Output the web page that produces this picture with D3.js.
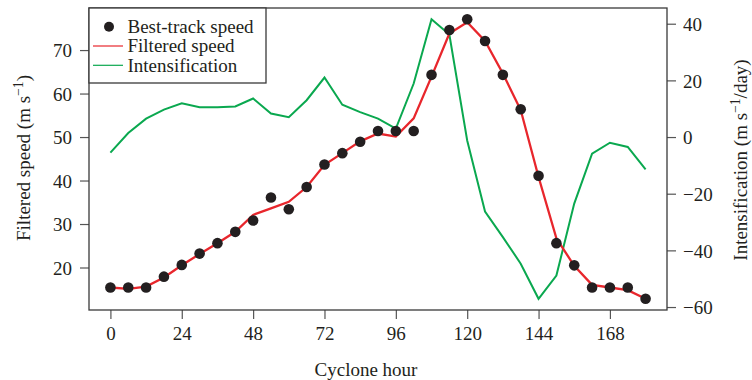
<!DOCTYPE html>
<html>
<head>
<meta charset="utf-8">
<script src="https://cdn.jsdelivr.net/npm/d3@7"></script>
<style>
  body { margin: 0; background: #fff; }
  svg text { font-family: "Liberation Serif", "DejaVu Serif", serif; fill: #231f20; }
</style>
</head>
<body>
<div id="chart"></div>
<script>
// cyclone hours, every 6 h
const hours = d3.range(0, 181, 6);
// best-track speed (m/s)
const bestTrack = [15.4, 15.4, 15.4, 17.9, 20.6, 23.2, 25.6, 28.2, 30.8, 36.1, 33.4, 38.5, 43.7, 46.3, 48.9, 51.4,
                   51.4, 51.4, 64.3, 74.6, 77.1, 72.1, 64.3, 56.4, 41.1, 25.6, 20.5, 15.4, 15.4, 15.4, 12.8];
// filtered speed (m/s)
const filtered = [15.4, 15.1, 15.6, 17.7, 20.5, 23.1, 25.6, 28.2, 32.1, 33.6, 35.1, 38.5, 43.6, 46.3, 49.0, 50.8,
                  50.1, 54.3, 63.9, 73.8, 76.4, 72.1, 64.6, 56.2, 40.8, 26.7, 20.4, 16.0, 15.4, 14.8, 12.8];
// intensification (m/s per day)
const intens = [-5.5, 1.4, 6.5, 9.7, 11.9, 10.5, 10.5, 10.8, 13.6, 8.3, 7.0, 13.0, 21.0, 11.4, 8.8, 6.5,
                3.0, 18.9, 41.6, 36.2, -1.2, -26.3, -35.3, -44.7, -57.1, -48.9, -23.5, -5.9, -2.0, -3.5, -11.4];

const xTicks = [0, 24, 48, 72, 96, 120, 144, 168];
const yTicks = [20, 30, 40, 50, 60, 70];
const y2Ticks = [-60, -40, -20, 0, 20, 40];

const W = 752, H = 380;
const box = {left: 89, right: 667, top: 8, bottom: 310};
const red = "#e8262c", green = "#0aa84f", ink = "#231f20";

// R-style 4% padding
function pad(ext) { const d = (ext[1] - ext[0]) * 0.04; return [ext[0] - d, ext[1] + d]; }

const x = d3.scaleLinear().domain(pad(d3.extent(hours))).range([box.left, box.right]);
const y = d3.scaleLinear().domain(pad(d3.extent(bestTrack.concat(filtered)))).range([box.bottom, box.top]);
const y2 = d3.scaleLinear().domain(pad(d3.extent(intens))).range([box.bottom, box.top]);

const svg = d3.select("#chart").append("svg")
    .attr("width", W).attr("height", H)
    .attr("viewBox", `0 0 ${W} ${H}`);

const fs = 19;

// axes
const ax = svg.append("g").attr("transform", `translate(0,${box.bottom})`)
    .call(d3.axisBottom(x).tickValues(xTicks).tickSize(9).tickPadding(8).tickFormat(d3.format("d")));
const ay = svg.append("g").attr("transform", `translate(${box.left},0)`)
    .call(d3.axisLeft(y).tickValues(yTicks).tickSize(9).tickPadding(8));
const ay2 = svg.append("g").attr("transform", `translate(${box.right},0)`)
    .call(d3.axisRight(y2).tickValues(y2Ticks).tickSize(9).tickPadding(7));

[ax, ay, ay2].forEach(g => {
  g.select(".domain").remove();
  g.selectAll(".tick line").attr("stroke", "#555").attr("stroke-width", 1.2);
  g.selectAll(".tick text").attr("font-size", fs).attr("font-family", null).attr("fill", ink);
});
ay.selectAll(".tick text").attr("dy", "0.35em");
ay2.selectAll(".tick text").attr("dy", "0.35em");

// plot box
svg.append("rect")
    .attr("x", box.left).attr("y", box.top)
    .attr("width", box.right - box.left).attr("height", box.bottom - box.top)
    .attr("fill", "none").attr("stroke", "#3a3a3a").attr("stroke-width", 1.3);

// axis titles
svg.append("text")
    .attr("x", (box.left + box.right) / 2 - 12).attr("y", 376)
    .attr("text-anchor", "middle").attr("font-size", fs)
    .text("Cyclone hour");

const lt = svg.append("text")
    .attr("transform", `translate(30,158) rotate(-90)`)
    .attr("text-anchor", "middle").attr("font-size", fs);
lt.append("tspan").text("Filtered speed (m s");
lt.append("tspan").attr("baseline-shift", "super").attr("font-size", fs * 0.72).text("−1");
lt.append("tspan").text(")");

const rt = svg.append("text")
    .attr("transform", `translate(747,160) rotate(-90)`)
    .attr("text-anchor", "middle").attr("font-size", fs);
rt.append("tspan").text("Intensification (m s");
rt.append("tspan").attr("baseline-shift", "super").attr("font-size", fs * 0.72).text("−1");
rt.append("tspan").text("/day)");

// intensification line (right axis)
svg.append("path")
    .datum(hours.map((h, i) => [h, intens[i]]))
    .attr("fill", "none").attr("stroke", green).attr("stroke-width", 2)
    .attr("d", d3.line().x(d => x(d[0])).y(d => y2(d[1])));

// filtered speed line
svg.append("path")
    .datum(hours.map((h, i) => [h, filtered[i]]))
    .attr("fill", "none").attr("stroke", red).attr("stroke-width", 2.3)
    .attr("d", d3.line().x(d => x(d[0])).y(d => y(d[1])));

// best-track points
svg.append("g").selectAll("circle")
    .data(hours.map((h, i) => [h, bestTrack[i]]))
    .enter().append("circle")
    .attr("cx", d => x(d[0])).attr("cy", d => y(d[1]))
    .attr("r", 5.3).attr("fill", ink);

// legend
const lg = svg.append("g");
lg.append("rect")
    .attr("x", box.left).attr("y", box.top)
    .attr("width", 177).attr("height", 75)
    .attr("fill", "#fff").attr("stroke", "#3a3a3a").attr("stroke-width", 1.3);
const rows = [
  {label: "Best-track speed", type: "dot"},
  {label: "Filtered speed", type: "line", color: red},
  {label: "Intensification", type: "line", color: green}
];
rows.forEach((r, i) => {
  const yy = 26.7 + i * 19.3;
  if (r.type === "dot") {
    lg.append("circle").attr("cx", 109).attr("cy", yy).attr("r", 5).attr("fill", ink);
  } else {
    lg.append("line").attr("x1", 93).attr("x2", 123).attr("y1", yy).attr("y2", yy)
      .attr("stroke", r.color).attr("stroke-width", 1.2);
  }
  lg.append("text").attr("x", 127.5).attr("y", yy).attr("dy", "0.33em")
    .attr("font-size", fs).text(r.label);
});
</script>
</body>
</html>
